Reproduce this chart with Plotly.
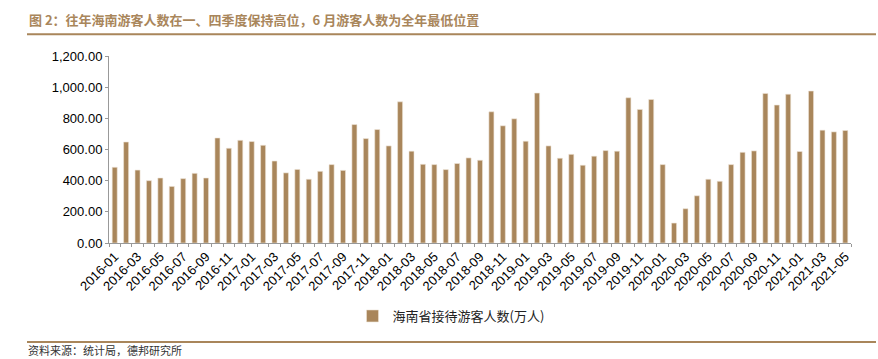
import plotly.graph_objects as go

months = [f"{y}-{m:02d}" for y in range(2016, 2022) for m in range(1, 13)][:65]

visitors = [
    486, 648, 468, 400, 417, 363, 413, 447, 417, 674, 608, 659,   # 2016
    651, 627, 526, 450, 472, 409, 460, 503, 466, 760, 670, 728,   # 2017
    623, 906, 589, 505, 503, 471, 510, 546, 531, 842, 752, 797,   # 2018
    653, 962, 623, 544, 569, 499, 557, 593, 589, 932, 857, 921,   # 2019
    503, 128, 220, 303, 409, 396, 503, 582, 591, 960, 885, 955,   # 2020
    587, 975, 724, 713, 722,                                      # 2021
]

tick_text = [m if i % 2 == 0 else "" for i, m in enumerate(months)]

BROWN = "#A9865B"
TITLE = "图 2：往年海南游客人数在一、四季度保持高位，6 月游客人数为全年最低位置"
SERIES = "海南省接待游客人数(万人)"
SOURCE = "资料来源：统计局，德邦研究所"

W, H = 878, 359
L, R, T, B = 109, 27, 56, 116


def px_x(px):
    return (px - L) / (W - L - R)


def px_y(py):
    return (H - B - py) / (H - T - B)


fig = go.Figure()
fig.add_trace(go.Bar(
    x=months, y=visitors, name=SERIES,
    marker=dict(color=BROWN, line=dict(color="#EFE4D6", width=0.6)),
    width=0.44, showlegend=True,
))

fig.update_layout(
    width=W, height=H,
    margin=dict(l=L, r=R, t=T, b=B),
    paper_bgcolor="white", plot_bgcolor="white",
    font=dict(family="Liberation Sans, Arial, sans-serif", size=12, color="#000"),
    showlegend=True,
    legend=dict(
        orientation="h", x=px_x(451), xanchor="center", y=px_y(316), yanchor="middle",
        font=dict(family="Noto Sans CJK SC", size=13, color="#222"),
        bgcolor="rgba(0,0,0,0)",
    ),
    xaxis=dict(
        type="category", tickmode="array", tickvals=months, ticktext=tick_text,
        tickangle=-45, tickson="boundaries", ticks="outside", ticklen=3,
        tickcolor="#999", showline=True, linecolor="#999", linewidth=1,
        showgrid=False, tickfont=dict(size=13, family="Liberation Sans, Arial"),
        range=[-0.5, len(months) - 0.5],
    ),
    yaxis=dict(
        range=[0, 1200], dtick=200, tickformat=",.2f", ticks="outside",
        ticklen=3, tickcolor="#999", showline=True, linecolor="#999",
        linewidth=1, showgrid=False, zeroline=False,
        tickfont=dict(size=13, family="Liberation Sans, Arial"),
    ),
    bargap=0.5,
)

fig.add_annotation(
    text=f"<b>{TITLE}</b>", xref="paper", yref="paper",
    x=px_x(27), y=px_y(20),
    xanchor="left", yanchor="middle", showarrow=False,
    font=dict(family="Noto Sans CJK SC", size=13, color=BROWN),
)
fig.add_annotation(
    text=SOURCE, xref="paper", yref="paper",
    x=px_x(26), y=px_y(350),
    xanchor="left", yanchor="middle", showarrow=False,
    font=dict(family="Noto Sans CJK SC", size=11, color="#333"),
)

for yline in (34.3, 342):
    fig.add_shape(
        type="line", xref="paper", yref="paper",
        x0=px_x(27), x1=px_x(876),
        y0=px_y(yline), y1=px_y(yline),
        line=dict(color=BROWN, width=2),
    )

fig.write_html(
    "out.html",
    config={"displayModeBar": False},
    post_script="document.body.style.margin='0';",
)
